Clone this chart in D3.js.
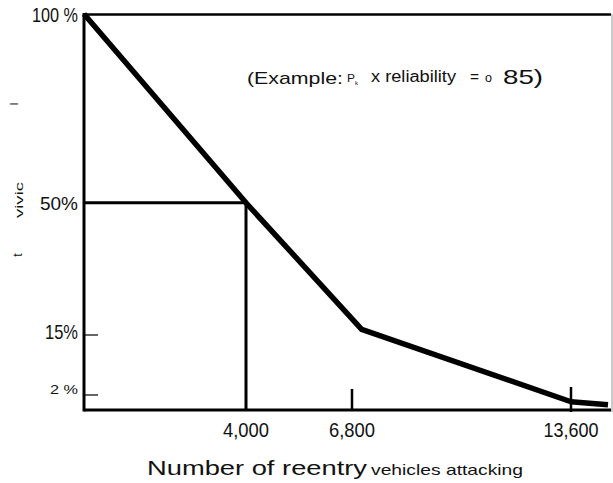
<!DOCTYPE html>
<html>
<head>
<meta charset="utf-8">
<script src="https://cdn.jsdelivr.net/npm/d3@7"></script>
<style>
  html, body { margin: 0; padding: 0; background: #fff; }
  svg { display: block; }
  text { font-family: "Liberation Sans", Arial, sans-serif; fill: #111; }
</style>
</head>
<body>
<script>
// ---- data ----
const survX = [0, 4000, 7100, 13600, 14750];      // reentry vehicles attacking
const survY = [100, 50, 16.5, 1.1, 0.7];           // percent surviving
const xTicks = [4000, 6800, 13600];
const xTickLabels = ["4,000", "6,800", "13,600"];
const yTicks = [100, 50, 15, 2];
const yTickLabels = ["100 %", "50%", "15%", "2 %"];
const refPoint = { x: 4000, y: 50 };

const W = 613, H = 483;
const svg = d3.select("body").append("svg").attr("width", W).attr("height", H);

// schematic (non-linear) scales as drawn in the original figure
const x = d3.scaleLinear().domain([0, 4000, 6800, 13600, 14750]).range([84, 246, 352, 571, 608]);
const y = d3.scaleLinear().domain([0, 2, 15, 100]).range([410, 395, 335, 14]);

const x0 = x(0), xR = 611, yTop = y(100), yBot = y(0);

// frame
svg.append("line").attr("x1", x0).attr("x2", xR).attr("y1", yTop + 0.5).attr("y2", yTop + 0.5)
  .attr("stroke", "#000").attr("stroke-width", 2.5);
svg.append("line").attr("x1", 612).attr("x2", 612).attr("y1", yTop).attr("y2", yBot + 2)
  .attr("stroke", "#999").attr("stroke-width", 1);
svg.append("line").attr("x1", x0).attr("x2", xR).attr("y1", yBot).attr("y2", yBot)
  .attr("stroke", "#000").attr("stroke-width", 3);
svg.append("line").attr("x1", x0).attr("x2", x0).attr("y1", yTop - 1).attr("y2", yBot + 1.5)
  .attr("stroke", "#000").attr("stroke-width", 3);

// y ticks (small inward ticks for 15% and 2%)
svg.selectAll(".ytick").data(yTicks.filter(d => d < 50)).enter().append("line")
  .attr("x1", x0).attr("x2", x0 + 14).attr("y1", d => y(d)).attr("y2", d => y(d))
  .attr("stroke", "#000").attr("stroke-width", 1.2);

// y tick labels
const yLabStyle = {
  100: { size: 21, len: 46, dy: 8 },
  50: { size: 19, len: 38, dy: 7 },
  15: { size: 21, len: 33, dy: 4 },
  2: { size: 13, len: 28, dy: -1 }
};
svg.selectAll(".ylab").data(yTicks).enter().append("text")
  .attr("x", 78).attr("y", d => y(d) + yLabStyle[d].dy)
  .attr("text-anchor", "end")
  .attr("font-size", d => yLabStyle[d].size)
  .attr("textLength", d => yLabStyle[d].len)
  .attr("lengthAdjust", "spacingAndGlyphs")
  .text((d, i) => yTickLabels[i]);

// reference lines for 4,000 / 50%
svg.append("line").attr("x1", x0).attr("x2", x(refPoint.x)).attr("y1", y(refPoint.y)).attr("y2", y(refPoint.y))
  .attr("stroke", "#000").attr("stroke-width", 3);
svg.append("line").attr("x1", x(refPoint.x)).attr("x2", x(refPoint.x)).attr("y1", y(refPoint.y)).attr("y2", yBot)
  .attr("stroke", "#000").attr("stroke-width", 3);

// x ticks at 6,800 and 13,600
svg.append("line").attr("x1", x(6800)).attr("x2", x(6800)).attr("y1", yBot - 21).attr("y2", yBot)
  .attr("stroke", "#000").attr("stroke-width", 2.5);
svg.append("line").attr("x1", x(13600)).attr("x2", x(13600)).attr("y1", yBot - 23).attr("y2", yBot + 2)
  .attr("stroke", "#000").attr("stroke-width", 2.5);

// x tick labels
const xLabLen = [46, 46, 55];
svg.selectAll(".xlab").data(xTicks).enter().append("text")
  .attr("x", d => x(d)).attr("y", 437)
  .attr("text-anchor", "middle").attr("font-size", 20)
  .attr("textLength", (d, i) => xLabLen[i]).attr("lengthAdjust", "spacingAndGlyphs")
  .text((d, i) => xTickLabels[i]);

// survival curve
const line = d3.line().x((d, i) => x(survX[i])).y(d => y(d));
svg.append("path").datum(survY).attr("d", line)
  .attr("fill", "none").attr("stroke", "#000").attr("stroke-width", 5.5)
  .attr("stroke-linejoin", "round").attr("stroke-linecap", "butt");

// x axis title
svg.append("text").attr("x", 147).attr("y", 475).attr("font-size", 20)
  .attr("textLength", 220).attr("lengthAdjust", "spacingAndGlyphs").text("Number of reentry");
svg.append("text").attr("x", 371).attr("y", 475).attr("font-size", 14.5)
  .attr("textLength", 152).attr("lengthAdjust", "spacingAndGlyphs").text("vehicles attacking");

// annotation
const ann = [
  { t: "(Example:", x: 247, y: 84, s: 17, len: 96 },
  { t: "P", x: 347, y: 82, s: 11, len: 8 },
  { t: "k", x: 355, y: 85, s: 6, len: 3 },
  { t: "x reliability", x: 371, y: 82, s: 16, len: 85 },
  { t: "=", x: 470, y: 82, s: 14, len: 9 },
  { t: "o", x: 485, y: 82, s: 12, len: 7 },
  { t: "85)", x: 503, y: 84, s: 21, len: 40 }
];
svg.selectAll(".ann").data(ann).enter().append("text")
  .attr("x", d => d.x).attr("y", d => d.y).attr("font-size", d => d.s)
  .attr("textLength", d => d.len).attr("lengthAdjust", "spacingAndGlyphs")
  .text(d => d.t);

// faint y-axis title fragments from the scan
const frag = [
  { t: "I", x: 18, y: 104, s: 11 },
  { t: "vivic", x: 23, y: 200, s: 11, len: 36 },
  { t: "t", x: 22, y: 255, s: 12 }
];
frag.forEach(f => {
  const el = svg.append("text").attr("transform", `translate(${f.x},${f.y}) rotate(-90)`)
    .attr("text-anchor", "middle").attr("font-size", f.s).text(f.t);
  if (f.len) el.attr("textLength", f.len).attr("lengthAdjust", "spacingAndGlyphs");
});
</script>
</body>
</html>
